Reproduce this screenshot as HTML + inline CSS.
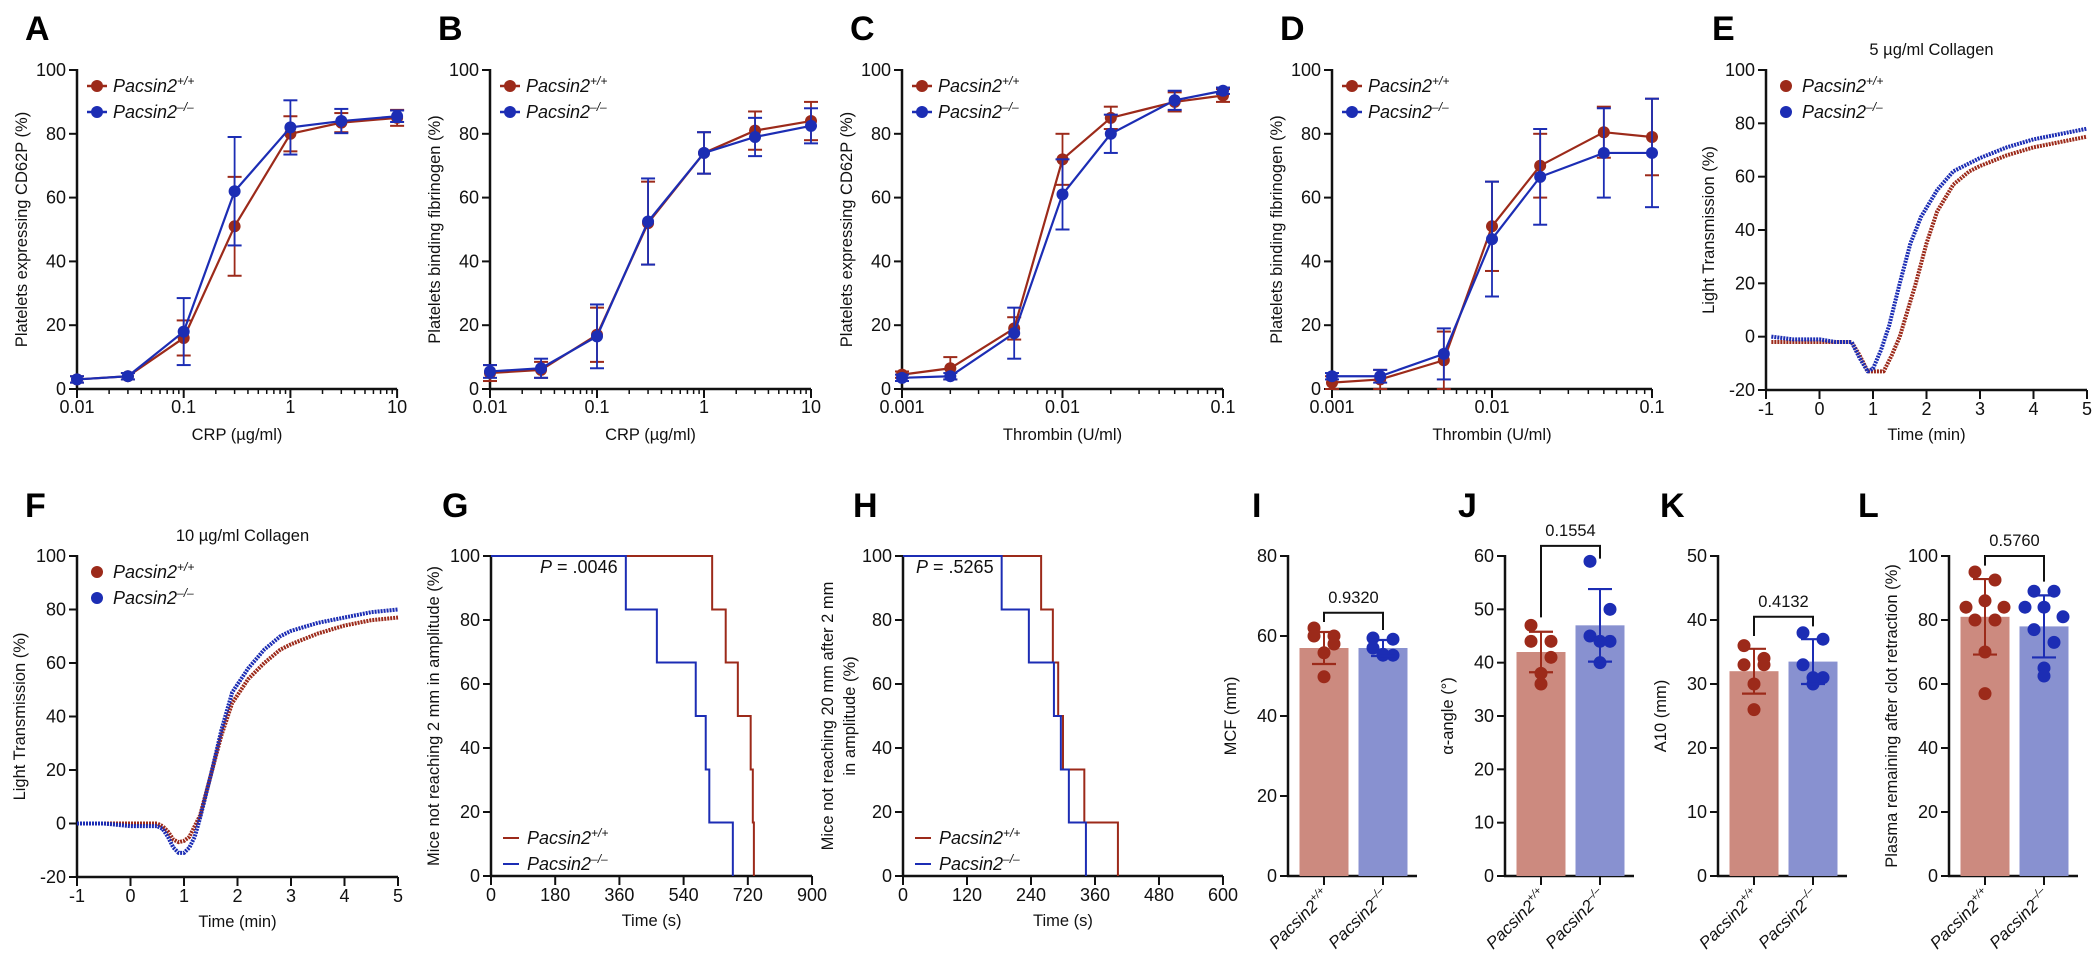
<!DOCTYPE html>
<html><head><meta charset="utf-8">
<style>
html,body{margin:0;padding:0;background:#fff;}
svg{display:block;font-family:"Liberation Sans",Arial,sans-serif;}
</style></head>
<body>
<svg id="fig" xmlns="http://www.w3.org/2000/svg" width="2100" height="963" viewBox="0 0 2100 963"></svg>
<script>
// ---------- DATA ----------
const crpConc = [0.01,0.03,0.1,0.3,1,3,10];
const aWT = [3,4,16,51,80,83.5,85];
const aWTerr = [1,1,5.5,15.5,5.5,3,2.5];
const aKO = [3,4,18,62,82,84,85.5];
const aKOerr = [1,1,10.5,17,8.5,3.8,1.8];
const bWT = [5,6,17,52,74,81,84];
const bWTerr = [2.5,2.5,8.5,13,6.5,6,6];
const bKO = [5.5,6.5,16.5,52.5,74,79,82.5];
const bKOerr = [2,3,10,13.5,6.5,6,5.5];
const thrConc = [0.001,0.002,0.005,0.01,0.02,0.05,0.1];
const cWT = [4.5,6.5,19,72,85,90,92];
const cWTerr = [1,3.5,3.5,8,3.5,3,2];
const cKO = [3.5,4,17.5,61,80,90.5,93.5];
const cKOerr = [1,1,8,11,6,3,1];
const dWT = [2,3,9,51,70,80.5,79];
const dWTerr = [2,3,9,14,10,8,12];
const dKO = [4,4,11,47,66.5,74,74];
const dKOerr = [1,2,8,18,15,14,17];
const crpTicks = ["0.01","0.1","1","10"];
const thrTicks = ["0.001","0.01","0.1"];
const eT_WT = [-0.9,-0.5,0,0.3,0.6,0.75,0.9,1.2,1.35,1.5,1.65,1.8,2.0,2.2,2.5,2.8,3.0,3.5,4.0,4.5,5.0];
const eV_WT = [-2,-2,-2,-2,-2,-7,-13,-13,-7,0,10,20,35,47,57,62,64,68,71,73,75];
const eT_KO = [-0.9,-0.5,0,0.3,0.6,0.75,0.9,1.0,1.15,1.3,1.5,1.7,1.9,2.2,2.5,3.0,3.5,4.0,4.5,5.0];
const eV_KO = [0,-1,-1,-2,-2,-8,-13,-12,-5,4,20,35,45,55,62,67,71,74,76,78];
const fT_WT = [-1,-0.5,0,0.5,0.6,0.7,0.8,0.9,1.0,1.1,1.2,1.3,1.5,1.7,1.9,2.2,2.5,2.8,3.0,3.5,4.0,4.5,5.0];
const fV_WT = [0,0,0,0,-1,-3,-6,-7,-6.5,-5,-1,3,18,33,45,54,60,65,67,71,74,76,77];
const fT_KO = [-1,-0.5,0,0.5,0.6,0.7,0.8,0.9,1.0,1.1,1.2,1.3,1.5,1.7,1.9,2.2,2.5,2.8,3.0,3.5,4.0,4.5,5.0];
const fV_KO = [0,0,-1,-1,-2,-5,-9,-11,-11,-9,-5,2,18,35,49,58,65,70,72,75,77,79,80];
const gTimeWT = [0,620,658,692,728,734,737];
const gSurvWT = [100,83.3,66.7,50,33.3,16.7,0];
const gTimeKO = [0,378,465,574,602,612,678];
const gSurvKO = [100,83.3,66.7,50,33.3,16.7,0];
const hTimeWT = [0,259,281,291,300,340,403];
const hSurvWT = [100,83.3,66.7,50,33.3,16.7,0];
const hTimeKO = [0,185,236,283,296,311,343];
const hSurvKO = [100,83.3,66.7,50,33.3,16.7,0];
const iMean = [57,57];
const iSD = [4,2];
const iWT = [62,60,60,58,55.8,49.8];
const iKO = [59.5,59.2,57,55.2,55.2,55.4];
const jMean = [42,47];
const jSD = [3.8,6.8];
const jWT = [47,44,44,41,38,36];
const jKO = [59,50,45,44,44,40];
const kMean = [32,33.5];
const kSD = [3.5,3.5];
const kWT = [36,34,33,33,30,26];
const kKO = [38,37,33,31,31,30];
const lMean = [81,78];
const lSD = [11.8,9.7];
const lWT = [95,92.5,86,84,84,80,80,70,57];
const lKO = [89,89,84,84,81,77,73,65,62.5];
const pLabels = ["0.9320","0.1554","0.4132","0.5760"];

// ---------- HELPERS ----------
const NS = "http://www.w3.org/2000/svg";
const svg = document.getElementById('fig');
const RED = "#9c2a1a", BLUE = "#1c2db4", BRED = "#cc8a7f", BBLUE = "#8891d0";
function mk(tag, attrs, name, parent) {
  const el = document.createElementNS(NS, tag);
  for (const k in attrs) el.setAttribute(k, attrs[k]);
  
  
  (parent || svg).appendChild(el);
  return el;
}
function txt(x, y, s, opts, name, parent) {
  const a = Object.assign({x: x, y: y, 'font-size': 17, fill: '#111'}, opts || {});
  const t = mk('text', a, name, parent);
  t.textContent = s;
  return t;
}
function line(x1,y1,x2,y2,stroke,w,name,parent){
  return mk('line',{x1:x1,y1:y1,x2:x2,y2:y2,stroke:stroke,'stroke-width':w},name,parent);
}
function panelLetter(x,y,s){ txt(x,y,s,{'font-size':34,'font-weight':'bold',fill:'#000'},'panel-label-'+s.toLowerCase()); }
function yAxis(g, x, ticks, ys, labels, title, titleX) {
  line(x, ys(ticks[0]) + 1, x, ys(ticks[ticks.length-1]) - 1, '#111', 2.5, 'y-axis-line', g);
  ticks.forEach((v,i)=>{
    const y = ys(v);
    line(x-8, y, x, y, '#111', 2, 'y-tick', g);
    txt(x-11, y+6, labels ? labels[i] : String(v), {'text-anchor':'end','font-size':18}, 'y-tick-label', g);
  });
  if (title) {
    const cy = (ys(ticks[0]) + ys(ticks[ticks.length-1]))/2;
    const lines = Array.isArray(title) ? title : [title];
    lines.forEach((tl, k)=>{
      const tx = titleX + k*22;
      txt(tx, cy, tl, {'text-anchor':'middle','font-size':16.5,transform:'rotate(-90 '+tx+' '+cy+')'}, 'y-axis-title', g);
    });
  }
}
function legendMarkers(g, x, y, lineStyle) {
  const items = [[RED,'+/+'],[BLUE,'\u2013/\u2013']];
  items.forEach((it,k)=>{
    const yy = y + k*26;
    if (lineStyle === 'line') {
      line(x-8, yy, x+8, yy, it[0], 2, 'legend-line', g);
    } else if (lineStyle === 'dot') {
      mk('circle',{cx:x,cy:yy,r:6,fill:it[0]},'legend-marker',g);
    } else {
      line(x-10, yy, x+10, yy, it[0], 2.5, 'legend-line', g);
      mk('circle',{cx:x,cy:yy,r:6,fill:it[0]},'legend-marker',g);
    }
    const t = txt(x+16, yy+6, 'Pacsin2', {'font-style':'italic','font-size':18}, 'legend-entry', g);
    const s = mk('tspan',{dy:-7,'font-size':12},'legend-superscript',t);
    s.textContent = it[1];
  });
}

// ---------- DOSE RESPONSE (A-D) ----------
function dosePanel(id, x0, decadePx, logMin, concs, tickLabels, wt, wtE, ko, koE, ytitle, xtitle, letterX) {
  const g = mk('g',{},'panel-'+id);
  const Y0 = 389, Y100 = 70;
  const ys = v => Y0 - (v/100)*(Y0-Y100);
  const xs = c => x0 + (Math.log10(c) - logMin)*decadePx;
  const nDec = tickLabels.length - 1;
  const xEnd = x0 + nDec*decadePx;
  panelLetter(letterX, 40, id);
  yAxis(g, x0, [0,20,40,60,80,100], ys, null, ytitle, x0-50);
  line(x0-1, Y0, xEnd, Y0, '#111', 2.5, 'x-axis-line', g);
  for (let d=0; d<nDec; d++) {
    for (let m=2; m<=9; m++) {
      const xx = x0 + (d + Math.log10(m))*decadePx;
      line(xx, Y0, xx, Y0+5, '#111', 1.5, 'x-minor-tick', g);
    }
  }
  tickLabels.forEach((lab,i)=>{
    const xx = x0 + i*decadePx;
    line(xx, Y0, xx, Y0+9, '#111', 2, 'x-tick', g);
    txt(xx, Y0+24, lab, {'text-anchor':'middle','font-size':18}, 'x-tick-label', g);
  });
  txt((x0+xEnd)/2, Y0+51, xtitle, {'text-anchor':'middle','font-size':16.5}, 'x-axis-title', g);
  [[wt,wtE,RED,'wt'],[ko,koE,BLUE,'ko']].forEach(s=>{
    const pts = concs.map((c,i)=>xs(c)+','+ys(s[0][i])).join(' ');
    mk('polyline',{points:pts,fill:'none',stroke:s[2],'stroke-width':2.2},'series-line-'+s[3],g);
    concs.forEach((c,i)=>{
      const xx = xs(c), lo = ys(s[0][i]-s[1][i]), hi = ys(s[0][i]+s[1][i]);
      line(xx, lo, xx, hi, s[2], 1.8, 'error-bar', g);
      line(xx-7, lo, xx+7, lo, s[2], 2, 'error-cap', g);
      line(xx-7, hi, xx+7, hi, s[2], 2, 'error-cap', g);
      mk('circle',{cx:xx,cy:ys(s[0][i]),r:6,fill:s[2]},'data-point-'+s[3],g);
    });
  });
  legendMarkers(g, x0+20, 86, 'both');
}
dosePanel('A', 77, 106.7, -2, crpConc, crpTicks, aWT, aWTerr, aKO, aKOerr, 'Platelets expressing CD62P (%)', 'CRP (\u00b5g/ml)', 25);
dosePanel('B', 490, 107, -2, crpConc, crpTicks, bWT, bWTerr, bKO, bKOerr, 'Platelets binding fibrinogen (%)', 'CRP (\u00b5g/ml)', 438);
dosePanel('C', 902, 160.5, -3, thrConc, thrTicks, cWT, cWTerr, cKO, cKOerr, 'Platelets expressing CD62P (%)', 'Thrombin (U/ml)', 850);
dosePanel('D', 1332, 160, -3, thrConc, thrTicks, dWT, dWTerr, dKO, dKOerr, 'Platelets binding fibrinogen (%)', 'Thrombin (U/ml)', 1280);

// ---------- AGGREGATION TRACES (E, F) ----------
function tracePanel(id, x0, yTop, yBot, tWT, vWT, tKO, vKO, title, letterX, letterY) {
  const g = mk('g',{},'panel-'+id);
  const pxMin = 53.5;
  const xs = t => x0 + (t+1)*pxMin;
  const ys = v => yBot - ((v+20)/120)*(yBot-yTop);
  panelLetter(letterX, letterY, id);
  yAxis(g, x0, [-20,0,20,40,60,80,100], ys, null, 'Light Transmission (%)', x0-52);
  const xEnd = xs(5);
  line(x0-1, yBot, xEnd, yBot, '#111', 2.5, 'x-axis-line', g);
  [-1,0,1,2,3,4,5].forEach(t=>{
    line(xs(t), yBot, xs(t), yBot+9, '#111', 2, 'x-tick', g);
    txt(xs(t), yBot+25, String(t), {'text-anchor':'middle','font-size':18}, 'x-tick-label', g);
  });
  txt((x0+xEnd)/2, yBot+50, 'Time (min)', {'text-anchor':'middle','font-size':16.5}, 'x-axis-title', g);
  txt((x0+xEnd)/2+5, yTop-15, title, {'text-anchor':'middle','font-size':16.5}, 'chart-title', g);
  [[tWT,vWT,RED,'wt'],[tKO,vKO,BLUE,'ko']].forEach(s=>{
    const pts = s[0].map((t,i)=>xs(t)+','+ys(s[1][i])).join(' ');
    mk('polyline',{points:pts,fill:'none',stroke:s[2],'stroke-width':4,'stroke-dasharray':'2 1','stroke-linejoin':'round'},'trace-'+s[3],g);
  });
  legendMarkers(g, x0+20, yTop+16, 'dot');
}
tracePanel('E', 1766, 70, 390, eT_WT, eV_WT, eT_KO, eV_KO, '5 \u00b5g/ml Collagen', 1712, 40);
tracePanel('F', 77, 556, 877, fT_WT, fV_WT, fT_KO, fV_KO, '10 \u00b5g/ml Collagen', 25, 517);

// ---------- KAPLAN-MEIER (G, H) ----------
function kmPanel(id, x0, pxPerS, xmax, step, tWT, sWT, tKO, sKO, ytitle, pText, pX, letterX) {
  const g = mk('g',{},'panel-'+id);
  const Y0 = 876, Y100 = 556;
  const ys = v => Y0 - (v/100)*(Y0-Y100);
  const xs = s => x0 + s*pxPerS;
  panelLetter(letterX, 517, id);
  yAxis(g, x0, [0,20,40,60,80,100], ys, null, ytitle, Array.isArray(ytitle) ? x0-70 : x0-52);
  line(x0-1, Y0, xs(xmax), Y0, '#111', 2.5, 'x-axis-line', g);
  for (let s=0; s<=xmax; s+=step) {
    line(xs(s), Y0, xs(s), Y0+9, '#111', 2, 'x-tick', g);
    txt(xs(s), Y0+25, String(s), {'text-anchor':'middle','font-size':18}, 'x-tick-label', g);
  }
  txt((x0+xs(xmax))/2, Y0+50, 'Time (s)', {'text-anchor':'middle','font-size':16.5}, 'x-axis-title', g);
  [[tWT,sWT,RED,'wt'],[tKO,sKO,BLUE,'ko']].forEach(sr=>{
    let d = '';
    sr[0].forEach((t,i)=>{
      if (i===0) d += 'M'+xs(t)+','+ys(sr[1][i]);
      else d += ' H'+xs(t)+' V'+ys(sr[1][i]);
    });
    mk('path',{d:d,fill:'none',stroke:sr[2],'stroke-width':2},'survival-curve-'+sr[3],g);
  });
  const pt = txt(pX, 573, '', {'font-size':18}, 'p-value', g);
  const pi = mk('tspan',{'font-style':'italic'},'p-symbol',pt); pi.textContent = 'P';
  const pv = mk('tspan',{},'p-number',pt); pv.textContent = ' = ' + pText;
  legendMarkers(g, x0+20, 838, 'line');
}
kmPanel('G', 491, 0.3567, 900, 180, gTimeWT, gSurvWT, gTimeKO, gSurvKO, 'Mice not reaching 2 mm in amplitude (%)', '.0046', 540, 442);
kmPanel('H', 903, 0.5333, 600, 120, hTimeWT, hSurvWT, hTimeKO, hSurvKO, ['Mice not reaching 20 mm after 2 mm','in amplitude (%)'], '.5265', 916, 853);

// ---------- BAR PANELS (I-L) ----------
function barPanel(id, x0, ymax, ystep, means, sds, wt, ko, ytitle, pLab, bracketTop, bracketL, bracketR, letterX) {
  const g = mk('g',{},'panel-'+id);
  const Y0 = 876, YT = 556;
  const ys = v => Y0 - (v/ymax)*(Y0-YT);
  panelLetter(letterX, 517, id);
  const ticks = []; for (let v=0; v<=ymax; v+=ystep) ticks.push(v);
  yAxis(g, x0, ticks, ys, null, ytitle, x0-52);
  const bw = 49, c1 = x0 + 36, c2 = x0 + 95;
  line(x0-1, Y0, x0+129, Y0, '#111', 2.5, 'x-axis-line', g);
  [[c1,means[0],sds[0],wt,BRED,RED,'+/+','wt'],[c2,means[1],sds[1],ko,BBLUE,BLUE,'\u2013/\u2013','ko']].forEach(b=>{
    mk('rect',{x:b[0]-bw/2,y:ys(b[1]),width:bw,height:Y0-ys(b[1]),fill:b[4]},'bar-'+b[7],g);
    line(b[0], Y0, b[0], Y0+9, '#111', 2, 'x-tick', g);
    const n = b[3].length;
    b[3].forEach((v,i)=>{
      const off = n<=6 ? [-10,10,-10,10,0,0][i] : [-10,10,0,-19,19,-10,10,0,0][i];
      mk('circle',{cx:b[0]+off,cy:ys(v),r:6.5,fill:b[5]},'data-point-'+b[7],g);
    });
    const hi = ys(b[1]+b[2]), lo = ys(b[1]-b[2]);
    line(b[0], lo, b[0], hi, b[5], 2, 'error-bar', g);
    line(b[0]-12, lo, b[0]+12, lo, b[5], 2.2, 'error-cap', g);
    line(b[0]-12, hi, b[0]+12, hi, b[5], 2.2, 'error-cap', g);
    const lx = b[0]+6, ly = Y0+20;
    const t = txt(lx, ly, 'Pacsin2', {'font-style':'italic','font-size':17,'text-anchor':'end',transform:'rotate(-45 '+lx+' '+ly+')'}, 'x-category-label', g);
    const s = mk('tspan',{dy:-7,'font-size':11},'category-superscript',t);
    s.textContent = b[6];
  });
  mk('path',{d:'M'+c1+','+ys(bracketL)+' V'+ys(bracketTop)+' H'+c2+' V'+ys(bracketR),fill:'none',stroke:'#111','stroke-width':2},'significance-bracket',g);
  txt((c1+c2)/2, ys(bracketTop)-10, pLab, {'text-anchor':'middle','font-size':16.5}, 'significance-label', g);
}
barPanel('I', 1288, 80, 20, iMean, iSD, iWT, iKO, 'MCF (mm)', pLabels[0], 65.8, 63.5, 61.5, 1252);
barPanel('J', 1505, 60, 10, jMean, jSD, jWT, jKO, '\u03b1-angle (\u00b0)', pLabels[1], 61.9, 48.5, 59.5, 1458);
barPanel('K', 1718, 50, 10, kMean, kSD, kWT, kKO, 'A10 (mm)', pLabels[2], 40.5, 37.5, 39, 1660);
barPanel('L', 1949, 100, 20, lMean, lSD, lWT, lKO, 'Plasma remaining after clot retraction (%)', pLabels[3], 100, 97, 92, 1858);
</script>
</body></html>
